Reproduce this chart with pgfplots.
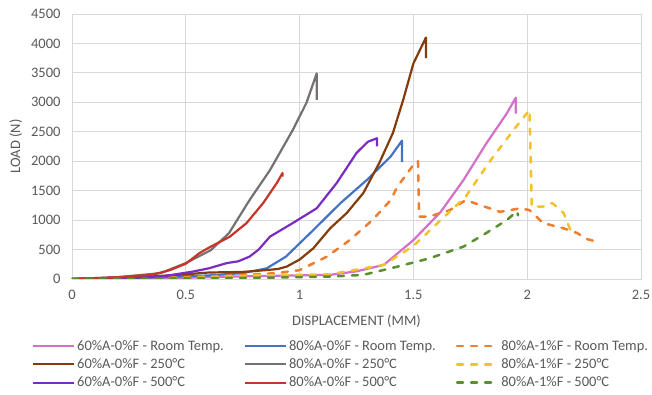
\documentclass[border=0pt]{standalone}
\usepackage{fontspec}
\setmainfont{Carlito}
\usepackage{pgfplots}
\pgfplotsset{compat=1.18}
\definecolor{gridc}{HTML}{D9D9D9}
\definecolor{txtc}{HTML}{595959}
\definecolor{cpink}{HTML}{D46FCB}
\definecolor{cblue}{HTML}{4472C4}
\definecolor{corange}{HTML}{ED7D31}
\definecolor{cbrown}{HTML}{843C0C}
\definecolor{cgray}{HTML}{767171}
\definecolor{cyellow}{HTML}{F2C12E}
\definecolor{cpurple}{HTML}{7B2BC4}
\definecolor{cred}{HTML}{C5352A}
\definecolor{cgreen}{HTML}{5A8F2E}
\begin{document}
\begin{tikzpicture}
\path[use as bounding box] (-72pt,-116pt) rectangle (580pt,279pt);
\begin{axis}[
  at={(0pt,0pt)}, anchor=south west,
  scale only axis, width=569pt, height=265pt,
  xmin=0, xmax=2.5, ymin=0, ymax=4500,
  xtick={0,0.5,...,2.5}, ytick={0,500,...,4500},
  xticklabels={0,0.5,1,1.5,2,2.5},
  grid=major, major grid style={draw=gridc, line width=0.8pt},
  axis line style={draw=gridc, line width=0.8pt},
  tick style={draw=none},
  tick label style={font=\fontsize{14.5}{17}\selectfont, text=txtc},
  label style={font=\fontsize{14.5}{17}\selectfont, text=txtc},
  /pgf/number format/assume math mode=true,
  /pgf/number format/set thousands separator={},
  yticklabel style={xshift=-8pt},
  xticklabel style={yshift=-8pt},
  xlabel={DISPLACEMENT (MM)}, ylabel={LOAD (N)},
  xlabel style={yshift=-8pt},
  ylabel style={yshift=2pt},
  legend columns=3,
  legend cell align=left,
  legend style={draw=none, fill=none, at={(-0.076,-0.215)}, anchor=north west,
    text=txtc, font=\fontsize{14.5}{17}\selectfont,
    /tikz/every even column/.append style={column sep=18pt},
    row sep=3pt},
  legend image code/.code={\draw[#1] (0pt,0pt) -- (41pt,0pt);},
  every axis plot/.append style={line width=2.2pt, line join=round},
  dsh/.style={line width=2.5pt, dash pattern=on 6pt off 8pt, line cap=round},
]
% 60%A-0%F Room Temp
\addplot[cpink] coordinates {(0,0) (0.5,20) (0.8,50) (1.134,70) (1.25,130) (1.37,240) (1.50,660) (1.62,1140) (1.72,1680) (1.82,2300) (1.91,2810) (1.95,3080) (1.95,2810)};
\addlegendentry{60\%A-0\%F - Room Temp.}
% 80%A-0%F Room Temp
\addplot[cblue] coordinates {(0,0) (0.3,20) (0.6,60) (0.75,100) (0.855,180) (0.94,380) (1.06,830) (1.18,1290) (1.295,1680) (1.40,2080) (1.45,2350) (1.45,1990)};
\addlegendentry{80\%A-0\%F - Room Temp.}
% 80%A-1%F Room Temp
\addplot[corange, dsh] coordinates {(0,0) (0.4,20) (0.7,60) (0.9,100) (1.0,150) (1.12,380) (1.22,660) (1.32,1000) (1.40,1340) (1.43,1570) (1.51,1990) (1.52,2000) (1.525,1060) (1.57,1060) (1.66,1170) (1.73,1340) (1.79,1260) (1.88,1140) (1.97,1200) (2.01,1170) (2.07,950) (2.16,860) (2.22,780) (2.26,680) (2.32,620)};
\addlegendentry{80\%A-1\%F - Room Temp.}
% 60%A-0%F 250
\addplot[cbrown] coordinates {(0,0) (0.3,30) (0.5,80) (0.6,110) (0.75,120) (0.85,150) (0.905,170) (0.943,210) (1.0,330) (1.06,520) (1.134,860) (1.207,1120) (1.28,1460) (1.35,1970) (1.41,2480) (1.455,3040) (1.50,3660) (1.555,4100) (1.555,3750)};
\addlegendentry{60\%A-0\%F - 250°C}
% 80%A-0%F 250
\addplot[cgray] coordinates {(0,0) (0.2,30) (0.39,100) (0.5,270) (0.61,490) (0.69,780) (0.78,1340) (0.87,1850) (0.97,2530) (1.03,2990) (1.075,3490) (1.075,3040)};
\addlegendentry{80\%A-0\%F - 250°C}
% 80%A-1%F 250
\addplot[cyellow, dsh] coordinates {(0,0) (0.5,20) (0.8,60) (1.134,80) (1.37,240) (1.50,560) (1.62,1000) (1.73,1400) (1.84,2020) (1.94,2530) (2.01,2870) (2.02,1230) (2.07,1230) (2.11,1290) (2.16,1120) (2.19,830)};
\addlegendentry{80\%A-1\%F - 250°C}
% 60%A-0%F 500
\addplot[cpurple] coordinates {(0,0) (0.2,20) (0.39,40) (0.53,125) (0.6,180) (0.68,270) (0.73,300) (0.78,380) (0.82,500) (0.87,720) (0.97,950) (1.075,1200) (1.163,1630) (1.25,2140) (1.30,2330) (1.34,2390) (1.34,2250)};
\addlegendentry{60\%A-0\%F - 500°C}
% 80%A-0%F 500
\addplot[cred] coordinates {(0,0) (0.2,30) (0.35,70) (0.43,150) (0.5,260) (0.56,440) (0.61,550) (0.65,630) (0.694,720) (0.767,950) (0.84,1290) (0.90,1630) (0.925,1800) (0.925,1740)};
\addlegendentry{80\%A-0\%F - 500°C}
% 80%A-1%F 500
\addplot[cgreen, dsh] coordinates {(0,0) (0.4,10) (0.8,20) (1.134,40) (1.28,70) (1.43,210) (1.57,350) (1.72,550) (1.82,780) (1.91,1000) (1.955,1150) (1.96,1080)};
\addlegendentry{80\%A-1\%F - 500°C}
\end{axis}
\end{tikzpicture}
\end{document}
